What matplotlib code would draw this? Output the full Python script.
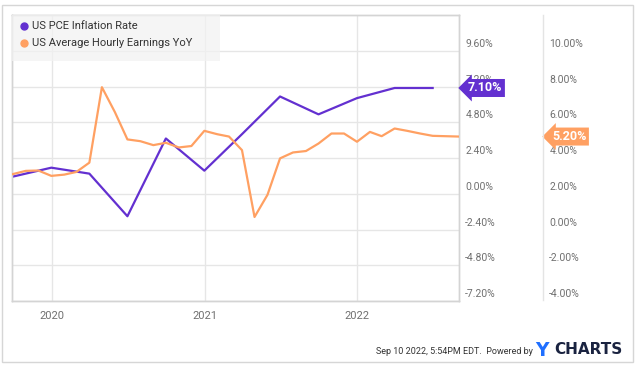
import matplotlib
matplotlib.use("Agg")
import matplotlib.pyplot as plt
from matplotlib.patches import Rectangle
from matplotlib.lines import Line2D
import pandas as pd

plt.rcParams["font.family"] = ["Roboto", "DejaVu Sans"]

# --- data ---
pce_dates = pd.date_range("2019-09-30", periods=12, freq="QE")
pce_values = [1.15, 1.75, 1.35, -1.51, 3.71, 1.55, 4.0, 6.53, 5.33, 6.42, 7.10, 7.10]

ahe_dates = pd.date_range("2019-09-30", periods=36, freq="ME")
ahe_values = [3.10, 3.28, 3.30, 3.00, 3.07, 3.22, 3.74, 7.96, 6.57, 5.04,
              4.94, 4.72, 4.85, 4.59, 4.67, 5.52, 5.33, 5.20, 4.44, 0.70,
              1.94, 3.98, 4.31, 4.39, 4.81, 5.37, 5.37, 4.91, 5.46, 5.22,
              5.65, 5.52, 5.37, 5.24, 5.22, 5.20]

left_ticks = [-7.2, -4.8, -2.4, 0.0, 2.4, 4.8, 7.2, 9.6]
right_ticks = [-4, -2, 0, 2, 4, 6, 8, 10]
year_ticks = ["2020", "2021", "2022"]

series_names = ["US PCE Inflation Rate", "US Average Hourly Earnings YoY"]
purple = "#6330d0"
orange = "#ffa062"
grid_c = "#e6e6e6"
label_c = "#707070"

W, H = 640, 368
fig = plt.figure(figsize=(6.4, 3.68), dpi=100)

# plot area in pixels: x 12..459, y 15..301
px0, px1, py0, py1 = 12, 459, 15, 301
ax = fig.add_axes([px0 / W, 1 - py1 / H, (px1 - px0) / W, (py1 - py0) / H])
ax2 = ax.twinx()

ax.set_xlim(pd.Timestamp("2019-09-28"), pd.Timestamp("2022-09-01"))
ax.set_ylim(-7.2, 12.0)
ax2.set_ylim(-4, 12)

# grid
ax.set_yticks(left_ticks)
ax.set_xticks([pd.Timestamp(y + "-01-01") for y in year_ticks])
ax.set_xticklabels(year_ticks)
ax.grid(True, color=grid_c, lw=1)
ax.tick_params(axis="both", length=0)
ax.tick_params(axis="x", pad=7, labelsize=8, labelcolor=label_c)
ax.set_yticklabels([])
ax2.set_yticks([])
for a in (ax, ax2):
    for s in a.spines.values():
        s.set_color("#d4d4d4")
        s.set_linewidth(1)

ax.plot(pce_dates, pce_values, color=purple, lw=1.6, zorder=3)
ax2.plot(ahe_dates, ahe_values, color=orange, lw=1.6, zorder=3)

# y labels, drawn slightly above each gridline
for v in left_ticks:
    ax.annotate(f"{v:.2f}%", xy=(1, v), xycoords=("axes fraction", "data"),
                xytext=(4.5, 5), textcoords="offset points",
                ha="left", va="center", fontsize=7.5, color=label_c,
                annotation_clip=False, zorder=2)
sep_x = (543 - px0) / (px1 - px0)
for v in right_ticks:
    ax2.annotate(f"{v:.2f}%", xy=(sep_x, v), xycoords=("axes fraction", "data"),
                 xytext=(4.5, 5), textcoords="offset points",
                 ha="left", va="center", fontsize=7.5, color=label_c,
                 annotation_clip=False, zorder=2)

# separator line for the second scale
fig.add_artist(Line2D([543 / W, 543 / W], [1 - 300 / H, 1 - 15 / H],
                      color="#e4e4e4", lw=1))

# value tags
ax2.annotate(f"{pce_values[-1]:.2f}%", xy=(1, 2 + pce_values[-1] / 1.2),
             xycoords=("axes fraction", "data"), xytext=(6.5, 0),
             textcoords="offset points", ha="left", va="center",
             fontsize=9, fontweight="bold", color="white",
             bbox=dict(boxstyle="larrow,pad=0.2", fc=purple, ec="none"),
             annotation_clip=False, zorder=10)
ax2.annotate(f"{ahe_values[-1]:.2f}%", xy=(sep_x, ahe_values[-1]),
             xycoords=("axes fraction", "data"), xytext=(6.5, 0),
             textcoords="offset points", ha="left", va="center",
             fontsize=9, fontweight="bold", color="white",
             bbox=dict(boxstyle="larrow,pad=0.2", fc=orange, ec="none"),
             annotation_clip=False, zorder=10)

# legend box
ax2.add_patch(Rectangle((0, 1 - 46 / (py1 - py0)), (220 - px0) / (px1 - px0),
                        46 / (py1 - py0), transform=ax2.transAxes,
                        fc="#f2f2f2", ec="none", alpha=0.75, zorder=4))
for i, (name, c) in enumerate(zip(series_names, [purple, orange])):
    yy = 1 - (26 + 17 * i) / H
    fig.add_artist(Line2D([24 / W], [yy], marker="o", ms=5, color=c, mec=c, ls=""))
    fig.text(32 / W, yy, name, fontsize=8, color="#333333", va="center", ha="left")

# outer frame
fig.add_artist(Rectangle((2 / W, 1 - 362 / H), 631 / W, 357 / H,
                         transform=fig.transFigure, fill=False,
                         ec="#d6d6d6", lw=1))

# footer
fig.text(533 / W, 1 - 351 / H, "Sep 10 2022, 5:54PM EDT.  Powered by",
         fontsize=6.5, color="#333333", ha="right", va="center")
fig.text(535 / W, 1 - 350 / H, "Y", fontsize=13.5, fontweight="bold",
         family="DejaVu Sans", color="#1f6fff", ha="left", va="center")
fig.text(554 / W, 1 - 350 / H, "CHARTS", fontsize=11, fontweight="bold",
         family="DejaVu Sans", color="#1a2340", ha="left", va="center")

fig.savefig("out.png", dpi=100)
